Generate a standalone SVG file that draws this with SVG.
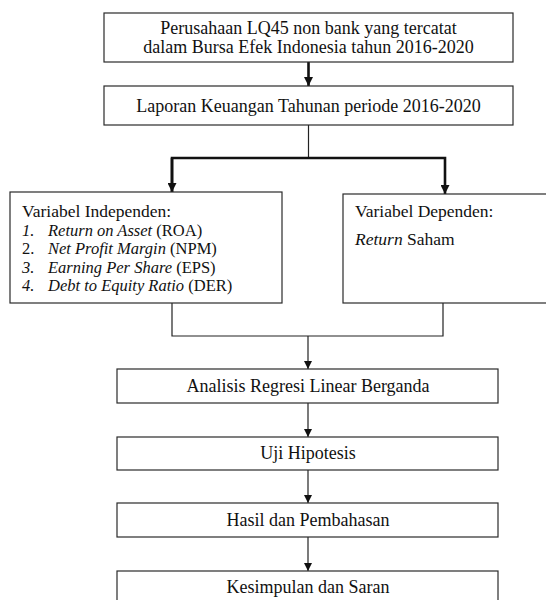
<svg xmlns="http://www.w3.org/2000/svg" width="546" height="600" viewBox="0 0 546 600">
<style>
.box{fill:#fff;stroke:#2a2a2a;stroke-width:1.2}
.t{font-family:"Liberation Serif","Times New Roman",serif;font-size:18px;fill:#111}
.s{font-size:17.5px}
.l{font-size:16.5px}
.c{text-anchor:middle}
.thin{fill:none;stroke:#222;stroke-width:1.2}
.thick{fill:none;stroke:#111;stroke-width:2.6}
.i{font-style:italic}
</style>
<defs>
<marker id="ah" viewBox="0 0 10 10" refX="10" refY="5" markerWidth="8" markerHeight="8" markerUnits="userSpaceOnUse" orient="auto"><path d="M0,0 L10,5 L0,10 z" fill="#111"/></marker>
<marker id="ahb" viewBox="0 0 10 10" refX="10" refY="5" markerWidth="9" markerHeight="9" markerUnits="userSpaceOnUse" orient="auto"><path d="M0,0 L10,5 L0,10 z" fill="#111"/></marker>
</defs>
<g id="connectors">
<path class="thick" d="M308.5,62 V86" marker-end="url(#ahb)"/>
<path class="thin" d="M308.5,125 V158"/>
<path class="thick" d="M172,192 V158 H445 V194" marker-end="url(#ahb)"/>
<path class="thick" d="M172,158 V192" marker-end="url(#ahb)"/>
<path class="thin" d="M172,303 V336 H443 V303"/>
<path class="thin" d="M308,336 V369" marker-end="url(#ah)"/>
<path class="thin" d="M308,403 V437" marker-end="url(#ah)"/>
<path class="thin" d="M308,470 V503" marker-end="url(#ah)"/>
<path class="thin" d="M308,537 V571" marker-end="url(#ah)"/>
</g>
<g id="n1">
<rect class="box" x="104" y="13" width="409" height="49"/>
<text class="t c" x="308.5" y="34">Perusahaan LQ45 non bank yang tercatat</text>
<text class="t c" x="308.5" y="53">dalam Bursa Efek Indonesia tahun 2016-2020</text>
</g>
<g id="n2">
<rect class="box" x="104" y="86" width="409" height="39"/>
<text class="t c" x="308.5" y="112">Laporan Keuangan Tahunan periode 2016-2020</text>
</g>
<g id="n3">
<rect class="box" x="10" y="192" width="272" height="111"/>
<text class="t s" x="22" y="217">Variabel Independen:</text>
<text class="t l i" x="22" y="235.5">1.</text>
<text class="t l" x="48" y="235.5"><tspan class="i">Return on Asset</tspan> (ROA)</text>
<text class="t l" x="22" y="254">2.</text>
<text class="t l" x="48" y="254"><tspan class="i">Net Profit Margin</tspan> (NPM)</text>
<text class="t l i" x="22" y="272.5">3.</text>
<text class="t l" x="48" y="272.5"><tspan class="i">Earning Per Share</tspan> (EPS)</text>
<text class="t l i" x="22" y="291">4.</text>
<text class="t l" x="48" y="291"><tspan class="i">Debt to Equity Ratio</tspan> (DER)</text>
</g>
<g id="n4">
<rect class="box" x="343" y="194" width="210" height="109"/>
<text class="t s" x="355" y="217">Variabel Dependen:</text>
<text class="t s" x="355" y="245"><tspan class="i">Return</tspan> Saham</text>
</g>
<g id="n5">
<rect class="box" x="117" y="369" width="381" height="34"/>
<text class="t c" x="308" y="392">Analisis Regresi Linear Berganda</text>
</g>
<g id="n6">
<rect class="box" x="117" y="437" width="381" height="33"/>
<text class="t c" x="308" y="459">Uji Hipotesis</text>
</g>
<g id="n7">
<rect class="box" x="117" y="503" width="381" height="34"/>
<text class="t c" x="308" y="526">Hasil dan Pembahasan</text>
</g>
<g id="n8">
<rect class="box" x="117" y="571" width="381" height="40"/>
<text class="t c" x="308" y="593">Kesimpulan dan Saran</text>
</g>
</svg>
